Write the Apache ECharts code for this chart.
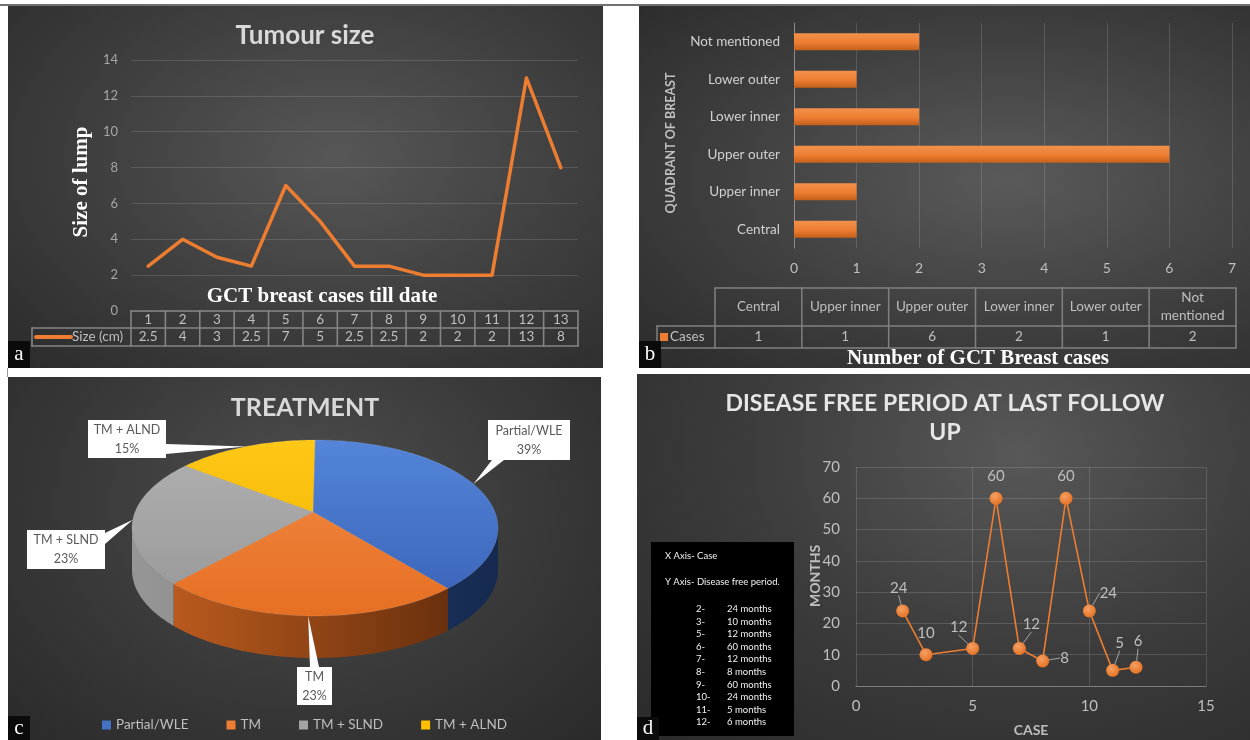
<!DOCTYPE html>
<html>
<head>
<meta charset="utf-8">
<title>GCT of breast - summary charts</title>
<script src="https://cdn.jsdelivr.net/npm/echarts@6/dist/echarts.min.js"></script>
<style>
  html, body { margin: 0; padding: 0; background: #ffffff; }
  #page { position: relative; width: 1250px; height: 740px; overflow: hidden; background: #ffffff; }
  .panel { position: absolute; overflow: hidden; }
  #pa { left: 8px; top: 6px; width: 595px; height: 362px;
        background: radial-gradient(ellipse at 55% 42%, #575757 0%, #3e3e3e 55%, #2b2b2b 100%); }
  #pb { left: 639px; top: 6px; width: 611px; height: 362px;
        background: radial-gradient(ellipse at 60% 48%, #5a5a5a 0%, #3f3f3f 55%, #2b2b2b 100%); }
  #pc { left: 8px; top: 377px; width: 593px; height: 363px;
        background: radial-gradient(ellipse at 50% 35%, #4f4f4f 0%, #393939 55%, #2a2a2a 100%); }
  #pd { left: 637px; top: 374px; width: 613px; height: 366px;
        background: radial-gradient(ellipse at 62% 22%, #585858 0%, #3c3c3c 50%, #2a2a2a 100%); }
  .rule { position: absolute; background: #707070; }
</style>
</head>
<body>
<div id="page">
  <div class="rule" style="left:0;top:4px;width:1250px;height:2px"></div>
  <div class="rule" style="left:7px;top:368px;width:1px;height:9px;background:#9a9a9a"></div>
  <div id="pa" class="panel"></div>
  <div id="pb" class="panel"></div>
  <div id="pc" class="panel"></div>
  <div id="pd" class="panel"></div>
</div>
<script>
// ---- data ----
// a: tumour size of each case (cm)
const sizeCases = ['1', '2', '3', '4', '5', '6', '7', '8', '9', '10', '11', '12', '13'];
const sizeValues = [2.5, 4, 3, 2.5, 7, 5, 2.5, 2.5, 2, 2, 2, 13, 8];
// b: quadrant of breast
const quadrants = ['Central', 'Upper inner', 'Upper outer', 'Lower inner', 'Lower outer', 'Not mentioned'];
const quadrantCases = [1, 1, 6, 2, 1, 2];
// c: treatment (%)
const treatments = ['Partial/WLE', 'TM', 'TM + SLND', 'TM + ALND'];
const treatmentShare = [39, 23, 23, 15];
// d: disease free period at last follow up (months)
const followCases = [2, 3, 5, 6, 7, 8, 9, 10, 11, 12];
const followMonths = [24, 10, 12, 60, 12, 8, 60, 24, 5, 6];

const FONT = 'Lato, "Open Sans", "DejaVu Sans", sans-serif';
const SERIF = '"Liberation Serif", "DejaVu Serif", serif';
const ORANGE = '#ED7D31';

function textEl(x, y, text, o) {
    o = o || {};
    const align = o.align || 'center';
    const valign = o.valign || 'middle';
    const size = o.size || 13;
    return {
        type: 'text', x: x, y: y, rotation: o.rotation || 0, z: 20, silent: true,
        style: {
            text: text, fill: o.color || '#bfbfbf',
            fontSize: size, fontWeight: o.weight || 'normal', fontFamily: o.family || FONT,
            align: align, textAlign: align, verticalAlign: valign, textVerticalAlign: valign,
            lineHeight: o.lineHeight || Math.round(size * 1.25)
        }
    };
}
function lineEl(x1, y1, x2, y2, color, width) {
    return { type: 'line', z: 15, silent: true, shape: { x1: x1, y1: y1, x2: x2, y2: y2 },
             style: { stroke: color, lineWidth: width, lineCap: 'round' } };
}
function panelTag(letter, x, y, h) {
    h = h || 27;
    const t = textEl(x + 11, y + h / 2, letter, { color: '#ffffff', size: 21, family: SERIF });
    t.z = 31;
    return [{ type: 'rect', z: 30, silent: true, shape: { x: x, y: y, width: 22, height: h }, style: { fill: '#0b0b0b' } }, t];
}

// ---------------- a: tumour size ----------------
const chartA = echarts.init(document.getElementById('pa'));
chartA.setOption({
    animation: false,
    grid: { left: 123, right: 25, top: 54, bottom: 57, outerBoundsMode: 'none' },
    xAxis: {
        type: 'category', data: sizeCases,
        axisLine: { show: false }, axisTick: { show: false }, axisLabel: { show: false }, splitLine: { show: false }
    },
    yAxis: {
        type: 'value', min: 0, max: 14, interval: 2,
        axisLine: { show: false }, axisTick: { show: false },
        axisLabel: { color: '#a6a6a6', fontSize: 13, margin: 13, fontFamily: FONT },
        splitLine: { lineStyle: { color: 'rgba(255,255,255,0.13)', width: 1 } }
    },
    series: [{
        type: 'line', data: sizeValues, symbol: 'none', z: 5,
        lineStyle: { color: ORANGE, width: 3.5, cap: 'round', join: 'round' }
    }]
});

// data table under the line chart, laid on the category positions
const xsA = sizeCases.map(c => chartA.convertToPixel({ xAxisIndex: 0 }, c));
const zeroA = chartA.convertToPixel({ yAxisIndex: 0 }, 0);
const halfA = (xsA[1] - xsA[0]) / 2;
const leftA = xsA[0] - halfA;
const rightA = xsA[xsA.length - 1] + halfA;
const rowA = [zeroA, zeroA + 17, zeroA + 35];
const legLeftA = 24;
const tableA = '#858585';
const elsA = [
    textEl(297, 30, 'Tumour size', { size: 26, weight: 'bold', color: '#d9d9d9' }),
    textEl(74, 176, 'Size of lump', { size: 21, weight: 'bold', color: '#ffffff', family: SERIF, rotation: Math.PI / 2 }),
    textEl(314, 291, 'GCT breast cases till date', { size: 21, weight: 'bold', color: '#ffffff', family: SERIF }),
    lineEl(leftA, rowA[0], rightA, rowA[0], tableA, 1.6),
    lineEl(legLeftA, rowA[1], rightA, rowA[1], tableA, 1.6),
    lineEl(legLeftA, rowA[2], rightA, rowA[2], tableA, 1.6),
    lineEl(legLeftA, rowA[1], legLeftA, rowA[2], tableA, 1.6),
    lineEl(28, (rowA[1] + rowA[2]) / 2, 63, (rowA[1] + rowA[2]) / 2, ORANGE, 4),
    textEl(64, (rowA[1] + rowA[2]) / 2, 'Size (cm)', { align: 'left', size: 13.5 })
];
[leftA].concat(xsA.map(x => x + halfA)).forEach(x => elsA.push(lineEl(x, rowA[0], x, rowA[2], tableA, 1.6)));
xsA.forEach((x, i) => {
    elsA.push(textEl(x, (rowA[0] + rowA[1]) / 2, sizeCases[i], { size: 13.5 }));
    elsA.push(textEl(x, (rowA[1] + rowA[2]) / 2, String(sizeValues[i]), { size: 13.5 }));
});
elsA.push(...panelTag('a', 0, 335));
chartA.setOption({ graphic: { elements: elsA } });

// ---------------- b: quadrant of breast ----------------
const chartB = echarts.init(document.getElementById('pb'));
const tableB = { left: 76, right: 597, top: 282, mid: 320, bottom: 342, legLeft: 18 };
const colB = (tableB.right - tableB.left) / quadrants.length;
const elsB = [
    textEl(32, 137, 'QUADRANT OF BREAST', { size: 12.5, weight: 'bold', rotation: Math.PI / 2 }),
    textEl(339, 353, 'Number of GCT Breast cases', { size: 21, weight: 'bold', color: '#ffffff', family: SERIF }),
    lineEl(tableB.left, tableB.top, tableB.right, tableB.top, '#808080', 1.5),
    lineEl(tableB.legLeft, tableB.mid, tableB.right, tableB.mid, '#808080', 1.5),
    lineEl(tableB.legLeft, tableB.bottom, tableB.right, tableB.bottom, '#808080', 1.5),
    lineEl(tableB.legLeft, tableB.mid, tableB.legLeft, tableB.bottom, '#808080', 1.5),
    { type: 'rect', z: 16, silent: true, shape: { x: 21, y: 327, width: 8, height: 8 }, style: { fill: ORANGE } },
    textEl(31, (tableB.mid + tableB.bottom) / 2, 'Cases', { align: 'left', size: 13.5 })
];
for (let i = 0; i <= quadrants.length; i++) {
    const x = tableB.left + i * colB;
    elsB.push(lineEl(x, tableB.top, x, tableB.bottom, '#808080', 1.5));
}
quadrants.forEach((q, i) => {
    const cx = tableB.left + (i + 0.5) * colB;
    elsB.push(textEl(cx, (tableB.top + tableB.mid) / 2, q.length > 12 ? q.replace(' ', '\n') : q, { size: 13.5, lineHeight: 18 }));
    elsB.push(textEl(cx, (tableB.mid + tableB.bottom) / 2, String(quadrantCases[i]), { size: 13.5 }));
});
elsB.push(...panelTag('b', 0, 335));

chartB.setOption({
    animation: false,
    grid: { left: 155, right: 18, top: 17, bottom: 120, outerBoundsMode: 'none' },
    xAxis: {
        type: 'value', min: 0, max: 7, interval: 1,
        axisLine: { show: false }, axisTick: { show: false },
        axisLabel: { color: '#bfbfbf', fontSize: 14, margin: 13, fontFamily: FONT },
        splitLine: { lineStyle: { color: 'rgba(255,255,255,0.14)' } }
    },
    yAxis: {
        type: 'category', data: quadrants,
        axisLine: { show: true, lineStyle: { color: '#8c8c8c', width: 1 } }, axisTick: { show: false },
        axisLabel: { color: '#d0d0d0', fontSize: 13.5, margin: 14, fontFamily: FONT }
    },
    series: [{
        type: 'bar', data: quadrantCases, barWidth: 17,
        itemStyle: {
            color: new echarts.graphic.LinearGradient(0, 0, 0, 1, [
                { offset: 0, color: '#f3914b' }, { offset: 0.55, color: '#ed7d31' }, { offset: 1, color: '#c4601c' }
            ])
        }
    }],
    graphic: { elements: elsB }
});

// ---------------- c: treatment (3-D pie drawn by a custom series) ----------------
const chartC = echarts.init(document.getElementById('pc'));
const PIE = { cx: 307, cy: 151, rx: 183, ry: 88, depth: 42, apexX: 305, apexY: 135, warp: 0.19 };
const shareTotal = treatmentShare.reduce((a, b) => a + b, 0);
const sliceFlat = ['#4472C4', '#ED7D31', '#A5A5A5', '#FFC000'];
const sliceTop = [['#5485d8', '#3861b8'], ['#f28b47', '#e66f22'], ['#b1b1b1', '#979797'], ['#ffc716', '#efb200']];
const sliceSide = [['#27477f', '#162a50'], ['#c56020', '#5c290b'], ['#969696', '#747474'], ['#c79500', '#8a6800']];

function pieAngle(frac) {
    const t = -Math.PI / 2 + 2 * Math.PI * frac;
    return t - PIE.warp * Math.cos(t);   // perspective: front stretched, back squeezed
}
function rimPoint(phi, dy) {
    return [PIE.cx + PIE.rx * Math.cos(phi), PIE.cy + PIE.ry * Math.sin(phi) + (dy || 0)];
}
function rim(p0, p1, dy) {
    const n = Math.max(2, Math.ceil((p1 - p0) / 0.02));
    const pts = [];
    for (let i = 0; i <= n; i++) pts.push(rimPoint(p0 + (p1 - p0) * i / n, dy));
    return pts;
}
function sliceRender(k) {
    return function (params, api) {
        const before = treatmentShare.slice(0, k).reduce((a, b) => a + b, 0);
        const p0 = pieAngle(before / shareTotal);
        const p1 = pieAngle((before + api.value(0)) / shareTotal);
        const children = [];
        const s0 = Math.max(p0, 0), s1 = Math.min(p1, Math.PI);
        if (s1 > s0) {
            children.push({
                type: 'polygon',
                shape: { points: rim(s0, s1, 0).concat(rim(s0, s1, PIE.depth).reverse()) },
                style: {
                    fill: new echarts.graphic.LinearGradient(PIE.cx - PIE.rx, 0, PIE.cx + PIE.rx, 0, [
                        { offset: 0, color: sliceSide[k][0] }, { offset: 1, color: sliceSide[k][1] }
                    ], true)
                }
            });
        }
        children.push({
            type: 'polygon',
            shape: { points: [[PIE.apexX, PIE.apexY]].concat(rim(p0, p1, 0)) },
            style: {
                fill: new echarts.graphic.LinearGradient(0, PIE.cy - PIE.ry, 0, PIE.cy + PIE.ry, [
                    { offset: 0, color: sliceTop[k][0] }, { offset: 1, color: sliceTop[k][1] }
                ], true),
                stroke: 'rgba(255,255,255,0.18)', lineWidth: 0.6
            }
        });
        return { type: 'group', children: children };
    };
}

// callout boxes (Partial/WLE, TM, TM + SLND, TM + ALND)
const calloutBox = [
    { x: 480, y: 43, w: 82, h: 40, base: [[484, 83], [496, 83]] },
    { x: 289, y: 290, w: 35, h: 38, base: [[302, 290], [311, 290]] },
    { x: 19, y: 153, w: 78, h: 39, base: [[97, 156], [97, 167]] },
    { x: 80, y: 43, w: 78, h: 38, base: [[158, 67], [158, 77]] }
];
const elsC = [textEl(297, 31, 'TREATMENT', { size: 25, weight: 'bold', color: '#d9d9d9' })];
let runC = 0;
treatments.forEach((name, k) => {
    const mid = pieAngle((runC + treatmentShare[k] / 2) / shareTotal);
    runC += treatmentShare[k];
    const anchor = rimPoint(mid, 0);
    const b = calloutBox[k];
    elsC.push({ type: 'polygon', z: 18, silent: true, shape: { points: b.base.concat([anchor]) }, style: { fill: '#ffffff' } });
    elsC.push({ type: 'rect', z: 18, silent: true, shape: { x: b.x, y: b.y, width: b.w, height: b.h }, style: { fill: '#ffffff' } });
    elsC.push(textEl(b.x + b.w / 2, b.y + b.h / 2, name + '\n' + treatmentShare[k] + '%', { size: 12.5, color: '#595959', lineHeight: 19 }));
});
elsC.push(...panelTag('c', 0, 339, 24));

chartC.setOption({
    animation: false,
    legend: {
        data: treatments, top: 341, left: 'center', padding: 0,
        icon: 'rect', itemWidth: 9, itemHeight: 9, itemGap: 38,
        textStyle: { color: '#bfbfbf', fontSize: 13.5, fontFamily: FONT }
    },
    series: treatments.map((name, k) => ({
        type: 'custom', name: name, coordinateSystem: 'none', silent: true,
        data: [treatmentShare[k]], itemStyle: { color: sliceFlat[k] },
        renderItem: sliceRender(k)
    })),
    graphic: { elements: elsC }
});

// ---------------- d: disease free period ----------------
const chartD = echarts.init(document.getElementById('pd'));
const followLabelShift = [[-4, -23], [0, -22], [-14, -21], [0, -22], [12, -24], [22, -3], [0, -22], [19, -18], [7, -27], [2, -26]];
const followLabelGuide = [true, false, true, false, true, true, false, true, true, true];

const elsD = [
    textEl(308, 44, 'DISEASE FREE PERIOD AT LAST FOLLOW\nUP', { size: 23, weight: 'bold', color: '#e6e6e6', lineHeight: 29 }),
    textEl(178, 202, 'MONTHS', { size: 14, weight: 'bold', rotation: Math.PI / 2 }),
    { type: 'rect', z: 18, silent: true, shape: { x: 14, y: 168, width: 143, height: 194 }, style: { fill: '#000000' } },
    textEl(28, 182, 'X Axis- Case', { align: 'left', size: 9.5, color: '#f2f2f2' }),
    textEl(28, 208, 'Y Axis- Disease free period.', { align: 'left', size: 9.5, color: '#f2f2f2' })
];
followCases.forEach((c, i) => {
    const y = 235 + i * 12.6;
    elsD.push(textEl(59, y, c + '-', { align: 'left', size: 9.5, color: '#f2f2f2' }));
    elsD.push(textEl(90, y, followMonths[i] + ' months', { align: 'left', size: 9.5, color: '#f2f2f2' }));
});
elsD.push(...panelTag('d', 0, 343, 23));

chartD.setOption({
    animation: false,
    grid: { left: 219, right: 44, top: 93, bottom: 54, outerBoundsMode: 'none' },
    xAxis: {
        type: 'value', min: 0, max: 15, interval: 5,
        axisLine: { show: true, onZero: false, lineStyle: { color: '#7d7d7d' } }, axisTick: { show: false },
        axisLabel: { color: '#bfbfbf', fontSize: 15, margin: 13, fontFamily: FONT },
        splitLine: { show: true, lineStyle: { color: 'rgba(255,255,255,0.14)' } },
        name: 'CASE', nameLocation: 'middle', nameGap: 37,
        nameTextStyle: { color: '#bfbfbf', fontWeight: 'bold', fontSize: 14, fontFamily: FONT }
    },
    yAxis: {
        type: 'value', min: 0, max: 70, interval: 10,
        axisLine: { show: false }, axisTick: { show: false },
        axisLabel: { color: '#bfbfbf', fontSize: 15, margin: 16, fontFamily: FONT },
        splitLine: { lineStyle: { color: 'rgba(255,255,255,0.14)' } }
    },
    series: [{
        type: 'line',
        data: followCases.map((c, i) => ({ value: [c, followMonths[i]], labelLine: { show: followLabelGuide[i] } })),
        symbol: 'circle', symbolSize: 13, z: 5,
        lineStyle: { color: ORANGE, width: 1.6 },
        itemStyle: {
            color: new echarts.graphic.RadialGradient(0.4, 0.35, 0.7, [
                { offset: 0, color: '#f6a165' }, { offset: 1, color: '#e46f1f' }
            ])
        },
        label: {
            show: true, position: 'inside', color: '#bfbfbf', fontSize: 15, fontFamily: FONT,
            formatter: p => String(p.value[1])
        },
        labelLine: { show: true, lineStyle: { color: '#a6a6a6', width: 1 } },
        labelLayout: function (p) {
            const s = followLabelShift[p.dataIndex];
            return { dx: s[0], dy: s[1] };
        }
    }],
    graphic: { elements: elsD }
});
</script>
</body>
</html>
